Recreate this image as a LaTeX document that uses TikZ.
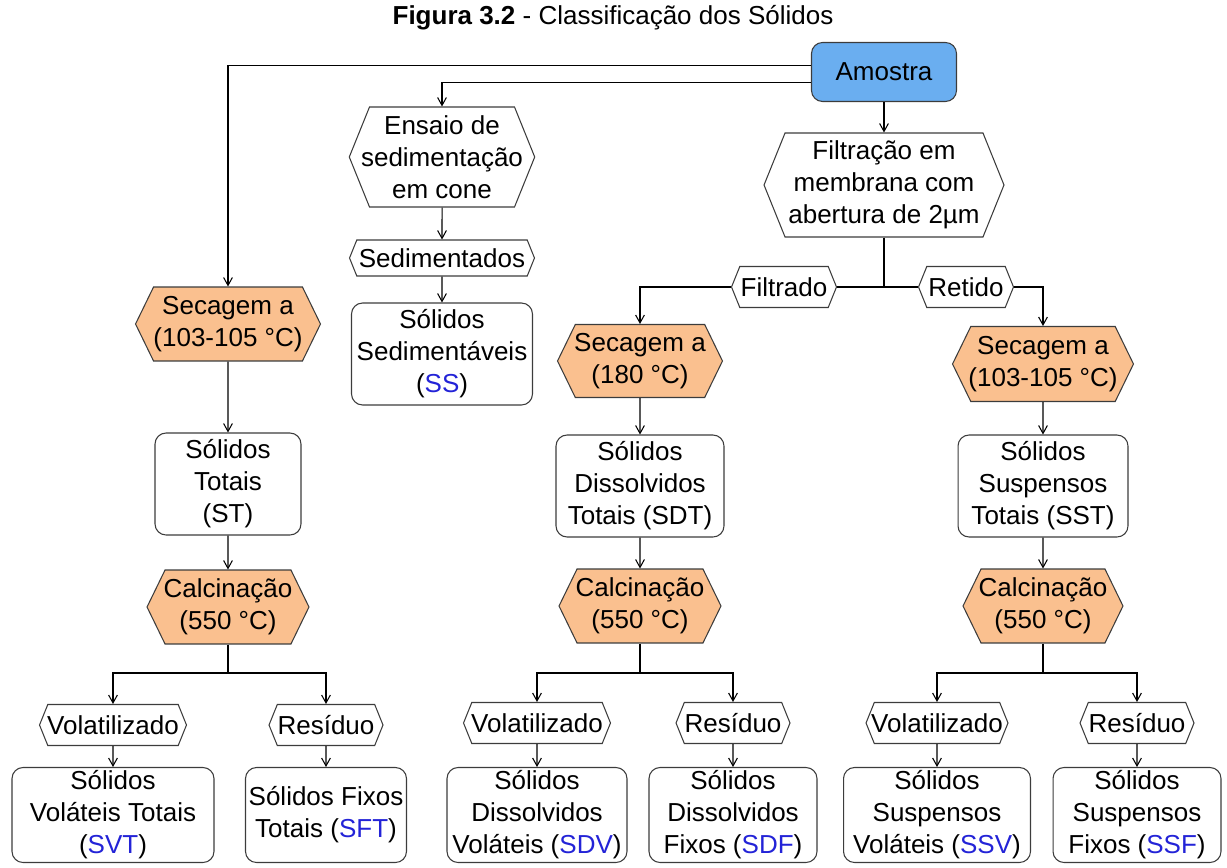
\documentclass[tikz,border=0pt]{standalone}
\usepackage{fontspec}
\setmainfont{Liberation Sans}
\usetikzlibrary{shapes.symbols,arrows.meta}

\definecolor{boxblue}{RGB}{106,174,240}
\definecolor{boxorange}{RGB}{250,192,143}
\definecolor{abbrblue}{RGB}{35,35,215}
\definecolor{edgegray}{RGB}{60,60,60}
\newcommand{\ab}[1]{\textcolor{abbrblue}{#1}}

\begin{document}
\begin{tikzpicture}[x=0.02cm, y=-0.02cm, font=\fontsize{14.8}{18.2}\selectfont, line width=0.6pt]

%STYLES
\tikzstyle{box}=[draw=edgegray, rounded corners=0.22cm, align=center, inner sep=1pt]
\tikzstyle{hexa}=[draw=edgegray, shape=signal, signal to=west and east, signal pointer angle=136, align=center, inner xsep=-4.8pt, inner ysep=1pt]
\tikzstyle{heat}=[hexa, fill=boxorange, signal pointer angle=128]
\tikzstyle{arr}=[-{Straight Barb[length=4.5pt,width=5pt]}]

\useasboundingbox (0,0) rectangle (1227,868);

%NODES
\node (title) at (613,18) {\textbf{Figura 3.2} - Classificação dos Sólidos};
\node[box, fill=boxblue, minimum width=2.9cm, minimum height=1.18cm] (amostra) at (884,72) {Amostra};

\node[hexa, minimum width=3.7cm, minimum height=2cm] (ensaio) at (442,157) {Ensaio de\\sedimentação\\em cone};
\node[hexa, minimum width=3.7cm, minimum height=0.72cm] (sedim) at (442,258) {Sedimentados};
\node[box, minimum width=3.62cm, minimum height=2.04cm] (ss) at (442,354) {Sólidos\\Sedimentáveis\\(\ab{SS})};

\node[hexa, minimum width=4.8cm, minimum height=2.08cm] (filtr) at (884,185) {Filtração em\\membrana com\\abertura de 2µm};
\node[hexa, minimum width=2.1cm, minimum height=0.82cm] (filtrado) at (784,287) {Filtrado};
\node[hexa, minimum width=1.9cm, minimum height=0.82cm] (retido) at (966,287) {Retido};

%left column
\node[heat, minimum width=3.7cm, minimum height=1.48cm] (secL) at (228,324) {Secagem a\\(103-105 °C)};
\node[box, minimum width=2.92cm, minimum height=2.04cm] (st) at (228,484) {Sólidos\\Totais\\(ST)};
\node[heat, minimum width=3.24cm, minimum height=1.48cm] (calcL) at (228,607) {Calcinação\\(550 °C)};
\node[hexa, minimum width=2.94cm, minimum height=0.82cm] (volL) at (113,725) {Volatilizado};
\node[hexa, minimum width=2.28cm, minimum height=0.82cm] (resL) at (326,725) {Resíduo};
\node[box, minimum width=4.04cm, minimum height=1.9cm] (svt) at (113,815) {Sólidos\\Voláteis Totais\\(\ab{SVT})};
\node[box, minimum width=3.22cm, minimum height=1.9cm] (sft) at (326,815) {Sólidos Fixos\\Totais (\ab{SFT})};

%middle column
\node[heat, minimum width=3.3cm, minimum height=1.46cm] (secM) at (640,361) {Secagem a\\(180 °C)};
\node[box, minimum width=3.36cm, minimum height=2.04cm] (sdt) at (640,486) {Sólidos\\Dissolvidos\\Totais (SDT)};
\node[heat, minimum width=3.24cm, minimum height=1.48cm] (calcM) at (640,606) {Calcinação\\(550 °C)};
\node[hexa, minimum width=2.94cm, minimum height=0.82cm] (volM) at (537,723) {Volatilizado};
\node[hexa, minimum width=2.28cm, minimum height=0.82cm] (resM) at (733,723) {Resíduo};
\node[box, minimum width=3.6cm, minimum height=1.9cm] (sdv) at (537,815) {Sólidos\\Dissolvidos\\Voláteis (\ab{SDV})};
\node[box, minimum width=3.36cm, minimum height=1.9cm] (sdf) at (733,815) {Sólidos\\Dissolvidos\\Fixos (\ab{SDF})};

%right column
\node[heat, minimum width=3.62cm, minimum height=1.5cm] (secR) at (1043,364) {Secagem a\\(103-105 °C)};
\node[box, minimum width=3.4cm, minimum height=2.04cm] (sst) at (1043,486) {Sólidos\\Suspensos\\Totais (SST)};
\node[heat, minimum width=3.2cm, minimum height=1.48cm] (calcR) at (1043,606) {Calcinação\\(550 °C)};
\node[hexa, minimum width=2.84cm, minimum height=0.82cm] (volR) at (937,723) {Volatilizado};
\node[hexa, minimum width=2.28cm, minimum height=0.82cm] (resR) at (1137,723) {Resíduo};
\node[box, minimum width=3.74cm, minimum height=1.9cm] (ssv) at (937,815) {Sólidos\\Suspensos\\Voláteis (\ab{SSV})};
\node[box, minimum width=3.36cm, minimum height=1.9cm] (ssf) at (1137,815) {Sólidos\\Suspensos\\Fixos (\ab{SSF})};

%JUNCTIONS
\coordinate (fj) at (884,287);
\coordinate (sL) at (228,673);
\coordinate (sM) at (640,673);
\coordinate (sR) at (1043,673);

%CONNECTORS
\draw[arr] (amostra.175) -| (secL.north);
\draw[arr] (amostra.188) -| (ensaio.north);
\draw[arr] (amostra.south) -- (filtr.north);
\draw[arr] (ensaio) -- (sedim);
\draw[arr] (sedim) -- (ss);
\draw (filtr.south) -- (fj);
\draw (fj) -- (filtrado.east);
\draw (fj) -- (retido.west);
\draw[arr] (filtrado.west) -| (secM.north);
\draw[arr] (retido.east) -| (secR.north);

\draw[arr] (secL) -- (st);
\draw[arr] (st) -- (calcL);
\draw (calcL.south) -- (sL);
\draw[arr] (sL) -| (volL.north);
\draw[arr] (sL) -| (resL.north);
\draw[arr] (volL) -- (svt);
\draw[arr] (resL) -- (sft);

\draw[arr] (secM) -- (sdt);
\draw[arr] (sdt) -- (calcM);
\draw (calcM.south) -- (sM);
\draw[arr] (sM) -| (volM.north);
\draw[arr] (sM) -| (resM.north);
\draw[arr] (volM) -- (sdv);
\draw[arr] (resM) -- (sdf);

\draw[arr] (secR) -- (sst);
\draw[arr] (sst) -- (calcR);
\draw (calcR.south) -- (sR);
\draw[arr] (sR) -| (volR.north);
\draw[arr] (sR) -| (resR.north);
\draw[arr] (volR) -- (ssv);
\draw[arr] (resR) -- (ssf);

\end{tikzpicture}
\end{document}
